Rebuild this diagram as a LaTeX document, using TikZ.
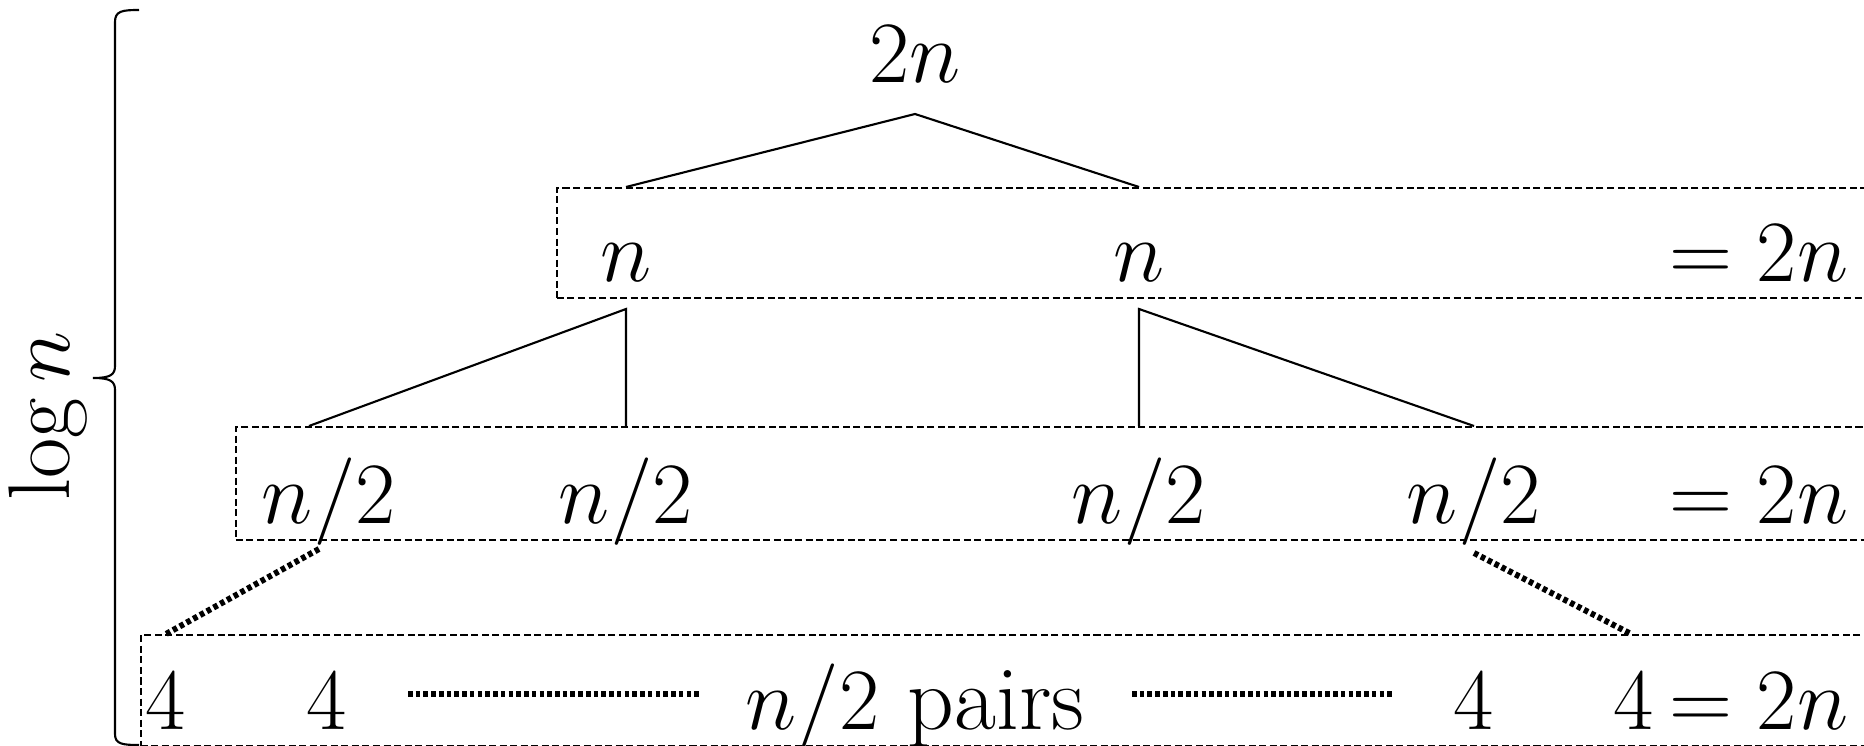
\documentclass[tikz,border=0pt]{standalone}
\begin{document}
\begin{tikzpicture}[x=0.01cm,y=-0.01cm,
  lbl/.style={font=\fontsize{26}{31}\selectfont, inner sep=0pt},
  lvl/.style={draw, dash pattern=on 2pt off 1pt, line width=0.5pt, anchor=north west, inner sep=0pt},
  treeline/.style={line width=0.6pt},
  dotline/.style={line width=1.7pt, dash pattern=on 1.3pt off 0.9pt},
  bracestyle/.style={line width=0.6pt}]
\clip (0,0) rectangle (1864,746);
% level boxes
\node[lvl, minimum width=13.8cm, minimum height=1.10cm] (row1) at (556,187) {};
\node[lvl, minimum width=17.0cm, minimum height=1.13cm] (row2) at (235,426) {};
\node[lvl, minimum width=18.0cm, minimum height=1.11cm] (row3) at (140,634) {};
% top
\node[lbl, anchor=base] (top) at (915,83) {$2n$};
\coordinate (apex) at (915,114);
% row 1
\node[lbl, anchor=base] (a1) at (626,282) {$n$};
\node[lbl, anchor=base] (a2) at (1139,282) {$n$};
\node[lbl, anchor=base east] (s1) at (1849,282) {$= 2n$};
% row 2
\node[lbl, anchor=base] (b1) at (329,523) {$n/2$};
\node[lbl, anchor=base] (b2) at (626,523) {$n/2$};
\node[lbl, anchor=base] (b3) at (1139,523) {$n/2$};
\node[lbl, anchor=base] (b4) at (1474,523) {$n/2$};
\node[lbl, anchor=base east] (s2) at (1849,523) {$= 2n$};
% row 3
\node[lbl, anchor=base] (c1) at (166,729) {$4$};
\node[lbl, anchor=base] (c2) at (327,729) {$4$};
\node[lbl, anchor=base] (pairs) at (915,729) {$n/2$ pairs};
\node[lbl, anchor=base] (c3) at (1474,729) {$4$};
\node[lbl, anchor=base] (c4) at (1634,729) {$4$};
\node[lbl, anchor=base east] (s3) at (1849,729) {$= 2n$};
% log n and brace
\node[lbl, rotate=90] (lg) at (48,416) {$\log n$};
\coordinate (brt) at (139,10);
\coordinate (brtip) at (93,378);
\coordinate (brb) at (139,745);
\draw[bracestyle] (brt) .. controls (122,10) and (115,11) .. (115,22)
  -- (115,366) .. controls (115,375) and (110,378) .. (brtip)
  .. controls (110,378) and (115,381) .. (115,390)
  -- (115,734) .. controls (115,744) and (122,745) .. (brb);
% tree connectors
\draw[treeline] (a1 |- row1.north) -- (apex) -- (a2 |- row1.north);
\coordinate (j1) at (626,309);
\coordinate (j2) at (1139,309);
\coordinate (l1) at (309,426);
\draw[treeline] (l1) -- (j1) -- (b2 |- row2.north);
\draw[treeline] (b3 |- row2.north) -- (j2) -- (b4 |- row2.north);
% dotted connectors
\coordinate (d1) at (319,549);
\coordinate (d2) at (1474,553);
\coordinate (d2e) at (1631,634);
\draw[dotline] (d1) -- (c1 |- row3.north);
\draw[dotline] (d2) -- (d2e);
\coordinate (h1s) at (408,694);
\coordinate (h1e) at (699,694);
\coordinate (h2s) at (1132,694);
\coordinate (h2e) at (1393,694);
\draw[dotline] (h1s) -- (h1e);
\draw[dotline] (h2s) -- (h2e);
\end{tikzpicture}
\end{document}
